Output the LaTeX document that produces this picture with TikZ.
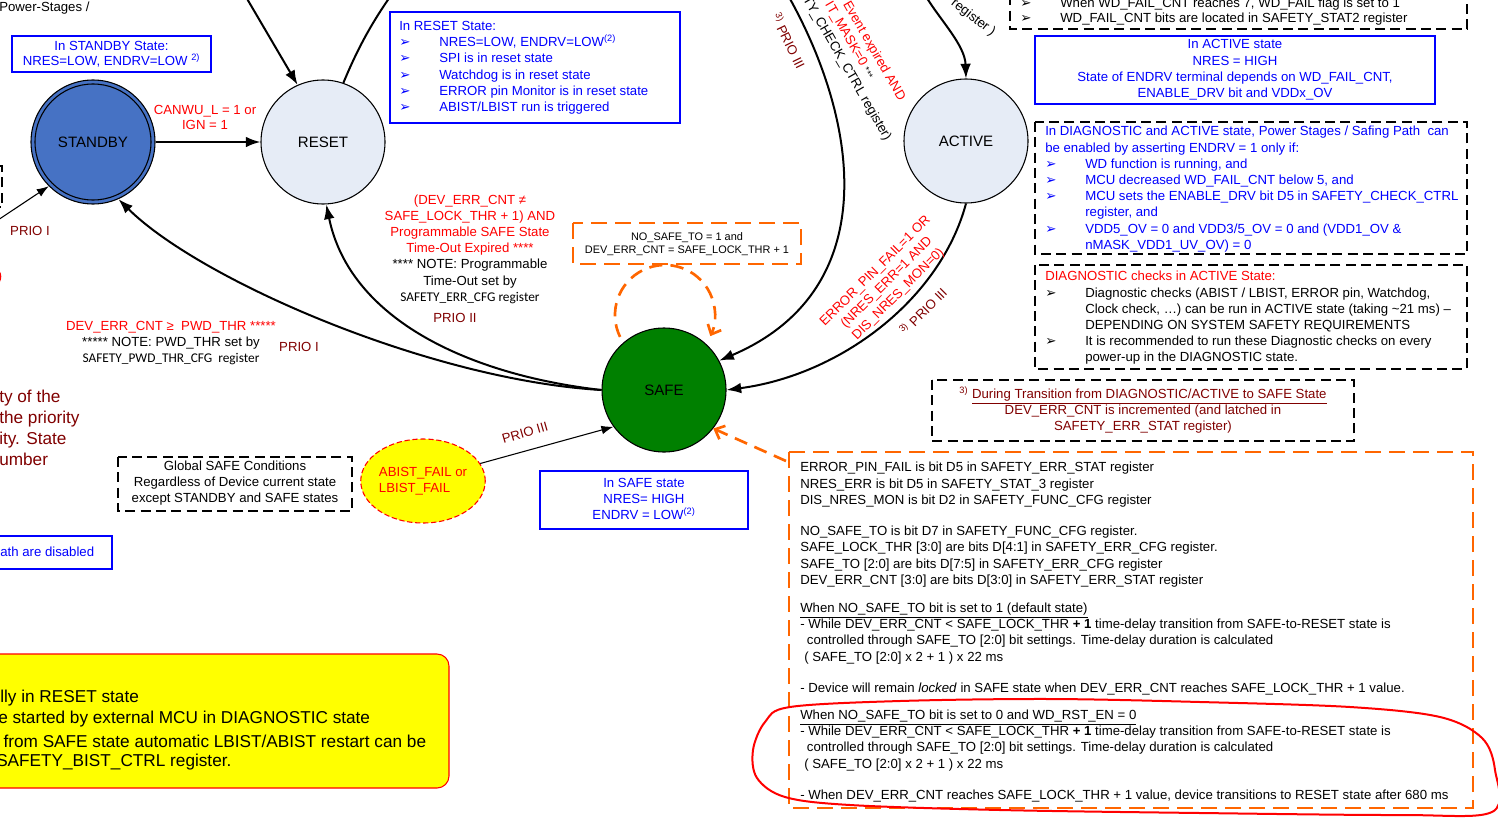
\documentclass[tikz,border=0pt]{standalone}
\usepackage{fontspec}
\setmainfont{Liberation Sans}
\newfontfamily\dejavu{DejaVu Sans}
\newfontfamily\calib{Carlito}
\usetikzlibrary{arrows.meta,shapes.geometric}
\definecolor{tblue}{RGB}{0,0,255}
\definecolor{tred}{RGB}{255,0,0}
\definecolor{prio}{RGB}{128,0,0}
\definecolor{orng}{RGB}{255,102,0}
\definecolor{sbfill}{RGB}{70,114,196}
\definecolor{lfill}{RGB}{230,236,246}
\definecolor{sgreen}{RGB}{0,128,0}
\definecolor{ylw}{RGB}{255,255,0}
\newcommand\fn{\fontsize{9.9}{12.15}\selectfont}
\newcommand\lgfont{\fontsize{12.9}{15.75}\selectfont}
\newcommand\calfont{\calib\fontsize{10}{11}\selectfont}
\newcommand\bul{{\dejavu\fontsize{10}{9}\selectfont ➢}}
\newcommand\bitem[1]{\makebox[30pt][l]{\bul}#1}
\newcommand\ind{\hspace*{30pt}}
\newcommand\sthree{\textsuperscript{3)}}
\newcommand\uline[1]{\smash{\underline{#1}}}
\begin{document}
\begin{tikzpicture}[x=0.75pt,y=-0.75pt,font=\fn,
  every node/.style={inner sep=0pt},
  state/.style={circle,draw,line width=0.8pt,minimum size=93pt,font=\fontsize{11.3}{13}\selectfont},
  conn/.style={line width=1.5pt,-{Latex[length=11pt,width=8pt]}},
  thinconn/.style={line width=0.8pt,-{Latex[length=9pt,width=6.5pt]}},
  oconn/.style={draw=orng,line width=2pt,dash pattern=on 10pt off 6pt,-{Straight Barb[length=6pt,width=11pt,line width=2pt]}},
  bluebox/.style={draw=tblue,line width=1.5pt},
  dbox/.style={draw=black,line width=1.5pt,dash pattern=on 7.5pt off 4pt},
  obox/.style={draw=orng,line width=2pt,dash pattern=on 12pt off 6pt},
  priolbl/.style={text=prio},
]
\useasboundingbox (0,0) rectangle (1498,821);
\clip (0,0) rectangle (1498,821);

% ---------- states ----------
\node[state,fill=sbfill] (standby) at (93,142) {};
\node[circle,draw,line width=0.8pt,minimum size=87pt,font=\fontsize{11.3}{13}\selectfont] (standbyin) at (93,142) {STANDBY};
\node[state,fill=lfill] (reset) at (323,142) {RESET};
\node[state,fill=lfill] (active) at (966,141) {ACTIVE};
\node[state,fill=sgreen] (safe) at (664,390) {SAFE};
\node[ellipse,draw=tred,line width=0.8pt,dash pattern=on 4pt off 2pt,fill=ylw,minimum width=90pt,minimum height=63pt,text=tred,align=left] (abist) at (423,481) {ABIST\_FAIL or\\LBIST\_FAIL};

% ---------- boxes ----------
\draw[bluebox] (12,36) rectangle (211,72);
\node[text=tblue,align=center,font=\fontsize{9.9}{11.3}\selectfont] (sbtxt) at (111.5,54) {In STANDBY State:\\NRES=LOW, ENDRV=LOW \textsuperscript{2)}};

\draw[bluebox] (390,12) rectangle (680,123);
\node[text=tblue,align=left,anchor=north west] (rstxt) at (399,21) {In RESET State:\\
\bitem{NRES=LOW, ENDRV=LOW\textsuperscript{(2)}}\\
\bitem{SPI is in reset state}\\
\bitem{Watchdog is in reset state}\\
\bitem{ERROR pin Monitor is in reset state}\\
\bitem{ABIST/LBIST run is triggered}};

\draw[dbox] (1010,-20) rectangle (1467,29);
\node[align=left,anchor=north west,font=\fontsize{9.9}{11.3}\selectfont] (wdtxt) at (1020,-2) {\bitem{When WD\_FAIL\_CNT reaches 7, WD\_FAIL flag is set to 1}\\
\bitem{WD\_FAIL\_CNT bits are located in SAFETY\_STAT2 register}};

\draw[bluebox] (1035,36) rectangle (1435,104);
\node[text=tblue,align=center] (actxt) at (1235,70) {In ACTIVE state\\NRES = HIGH\\State of ENDRV terminal depends on WD\_FAIL\_CNT,\\ENABLE\_DRV bit and VDDx\_OV};

\draw[dbox] (1035,122) rectangle (1467,254);
\node[text=tblue,align=left,anchor=north west] (diagtxt) at (1045,126) {In DIAGNOSTIC and ACTIVE state, Power Stages / Safing Path \ can\\
be enabled by asserting ENDRV = 1 only if:\\
\bitem{WD function is running, and}\\
\bitem{MCU decreased WD\_FAIL\_CNT below 5, and}\\
\bitem{MCU sets the ENABLE\_DRV bit D5 in SAFETY\_CHECK\_CTRL}\\
\ind register, and\\
\bitem{VDD5\_OV = 0 and VDD3/5\_OV = 0 and (VDD1\_OV \&}\\
\ind nMASK\_VDD1\_UV\_OV) = 0};

\draw[dbox] (1035,265) rectangle (1467,369);
\node[align=left,anchor=north west] (chktxt) at (1045,271) {\textcolor{tred}{DIAGNOSTIC checks in ACTIVE State:}\\
\bitem{Diagnostic checks (ABIST / LBIST, ERROR pin, Watchdog,}\\
\ind Clock check, …) can be run in ACTIVE state (taking \textasciitilde21 ms) –\\
\ind DEPENDING ON SYSTEM SAFETY REQUIREMENTS\\
\bitem{It is recommended to run these Diagnostic checks on every}\\
\ind power-up in the DIAGNOSTIC state.};

\draw[dbox] (932,380) rectangle (1354,441);
\node[text=prio,align=center] (fntxt) at (1143,410) {\sthree\ \uline{During Transition from DIAGNOSTIC/ACTIVE to SAFE State}\\DEV\_ERR\_CNT is incremented (and latched in\\SAFETY\_ERR\_STAT register)};

\draw[obox] (573,223) rectangle (801,264);
\node[align=center,font=\fontsize{8.2}{9.75}\selectfont] (nstxt) at (687,244) {NO\_SAFE\_TO = 1 and\\DEV\_ERR\_CNT = SAFE\_LOCK\_THR + 1};

\draw[dbox] (118,457) rectangle (352,511);
\node[align=center] (gltxt) at (235,483) {Global SAFE Conditions\\Regardless of Device current state\\except STANDBY and SAFE states};

\draw[bluebox] (540,471) rectangle (748,529);
\node[text=tblue,align=center] (sftxt) at (644,499) {In SAFE state\\NRES= HIGH\\ENDRV = LOW\textsuperscript{(2)}};

\draw[bluebox] (-20,536) rectangle (112,569);
\node[text=tblue,anchor=west] (pathtxt) at (0,552) {ath are disabled};

\draw[dbox] (-60,166) rectangle (2,207);
\draw[tred,line width=0.8pt] (-6,267) .. controls (3,271) and (3,282) .. (-6,287);

\node[anchor=west] (pstxt) at (-1,8) {Power-Stages /};

\node[text=prio,align=left,anchor=north west,font=\lgfont] (prtxt) at (-1,390) {ty of the\\the priority\\ity. State\\umber};

\draw[draw=tred,line width=0.8pt,fill=ylw,rounded corners=9pt] (-20,654) rectangle (449,788);
\node[anchor=west,font=\lgfont] (y1) at (0,698) {lly in RESET state};
\node[anchor=west,font=\lgfont] (y2) at (-2,719) {e started by external MCU in DIAGNOSTIC state};
\node[anchor=west,font=\lgfont] (y3) at (-11,741) {e from SAFE state automatic LBIST/ABIST restart can be};
\node[anchor=west,font=\lgfont] (y4) at (-4,762) {SAFETY\_BIST\_CTRL register.};

\draw[obox] (789,452) rectangle (1473,808);
\node[align=left,anchor=north west] (regtxt) at (800,462) {ERROR\_PIN\_FAIL is bit D5 in SAFETY\_ERR\_STAT register\\
NRES\_ERR is bit D5 in SAFETY\_STAT\_3 register\\
DIS\_NRES\_MON is bit D2 in SAFETY\_FUNC\_CFG register\\[11.5pt]
NO\_SAFE\_TO is bit D7 in SAFETY\_FUNC\_CFG register.\\
SAFE\_LOCK\_THR [3:0] are bits D[4:1] in SAFETY\_ERR\_CFG register.\\
SAFE\_TO [2:0] are bits D[7:5] in SAFETY\_ERR\_CFG register\\
DEV\_ERR\_CNT [3:0] are bits D[3:0] in SAFETY\_ERR\_STAT register\\[9pt]
\uline{When NO\_SAFE\_TO bit is set to 1 (default state)}\\
- While DEV\_ERR\_CNT < SAFE\_LOCK\_THR \textbf{+ 1} time-delay transition from SAFE-to-RESET state is\\
\hspace*{5pt}controlled through SAFE\_TO [2:0] bit settings. Time-delay duration is calculated\\
\hspace*{3pt}( SAFE\_TO [2:0] x 2 + 1 ) x 22 ms\\[11pt]
- Device will remain \textit{locked} in SAFE state when DEV\_ERR\_CNT reaches SAFE\_LOCK\_THR + 1 value.\\[8.5pt]
\uline{When NO\_SAFE\_TO bit is set to 0 and WD\_RST\_EN = 0}\\
- While DEV\_ERR\_CNT < SAFE\_LOCK\_THR \textbf{+ 1} time-delay transition from SAFE-to-RESET state is\\
\hspace*{5pt}controlled through SAFE\_TO [2:0] bit settings. Time-delay duration is calculated\\
\hspace*{3pt}( SAFE\_TO [2:0] x 2 + 1 ) x 22 ms\\[11pt]
- When DEV\_ERR\_CNT reaches SAFE\_LOCK\_THR + 1 value, device transitions to RESET state after 680 ms};

\draw[tred,line width=1.5pt] plot[smooth cycle,tension=0.55] coordinates {(790,707) (900,701) (1050,699) (1200,702) (1350,707) (1440,717) (1482,738) (1495,770) (1492,812) (1400,815) (1200,813) (1000,810) (850,805) (785,797) (757,778) (753,750) (765,722)};

% ---------- coordinates ----------
\coordinate (sbin) at (-2,220);
\coordinate (rin) at (246,-3);
\coordinate (rout) at (392,-6);
\coordinate (btop) at (785,-10);
\coordinate (atop) at (925,-5);
\coordinate (ocorner) at (786,461);
\coordinate (loopc) at (665,315);

% ---------- connectors ----------
\draw[conn] (standby.east) -- (reset.west);
\draw[conn] (rin) -- (reset.114);
\draw[line width=1.5pt] (reset.71) .. controls (355,55) and (368,28) .. (rout);
\draw[thinconn] (sbin) -- (standby.225);
\draw[conn] (safe.180) .. controls (470,375) and (350,320) .. (reset.273);
\draw[conn] (safe.180) .. controls (430,380) and (200,280) .. (standby.294);
\draw[conn] (btop) .. controls (860,120) and (885,290) .. (safe.28);
\draw[conn] (atop) .. controls (940,20) and (965,45) .. (active.north);
\draw[conn] (active.south) .. controls (940,300) and (840,375) .. (safe.east);
\draw[thinconn] (abist.17) -- (safe.216);
\draw[oconn] (ocorner) -- (safe.-38);
\draw[oconn] ([shift={(206:37.5pt)}]loopc) arc[start angle=206,end angle=-25,radius=37.5pt];

% ---------- connector labels ----------
\node[text=tred,align=center,font=\fontsize{9.9}{11.3}\selectfont] (canlbl) at (205,117) {CANWU\_L = 1 or\\IGN = 1};
\node[priolbl] (p1) at (30,231) {PRIO I};
\node[align=center] (rslbl) at (470,249) {\textcolor{tred}{(DEV\_ERR\_CNT ≠}\\\textcolor{tred}{SAFE\_LOCK\_THR + 1) AND}\\\textcolor{tred}{Programmable SAFE State}\\\textcolor{tred}{Time-Out Expired ****}\\**** NOTE: Programmable\\Time-Out set by\\{\calfont SAFETY\_ERR\_CFG register}};
\node[priolbl] (p2) at (455,318) {PRIO II};
\node[align=center] (sblbl) at (171,343) {\textcolor{tred}{DEV\_ERR\_CNT ≥\ \ PWD\_THR *****}\\***** NOTE: PWD\_THR set by\\{\calfont SAFETY\_PWD\_THR\_CFG\ \ register}};
\node[priolbl] (p3) at (299,347) {PRIO I};
\node[priolbl,rotate=16] (p4) at (525,433) {PRIO III};
\node[priolbl,rotate=-64] (p5) at (789,41) {\sthree\ PRIO III};
\node[anchor=east,rotate=-60] (l1) at (888,140) {(SAFETY\_CHECK\_CTRL register)};
\node[anchor=east,rotate=-60,text=tred] (l2) at (871,78) {IT\_MASK=0 \textcolor{black}{\fontsize{7}{8}\selectfont ***}};
\node[anchor=east,rotate=-60,text=tred] (l3) at (902,100) {t Event expired AND};
\node[anchor=east,rotate=-38] (l4) at (994,34) {register )};
\node[text=tred,align=center,rotate=45] (erlbl) at (887,283) {ERROR\_PIN\_FAIL=1 OR\\(NRES\_ERR=1 AND\\DIS\_NRES\_MON=0)};
\node[priolbl,rotate=45] (p6) at (923,311) {\sthree\ PRIO III};
\end{tikzpicture}
\end{document}
